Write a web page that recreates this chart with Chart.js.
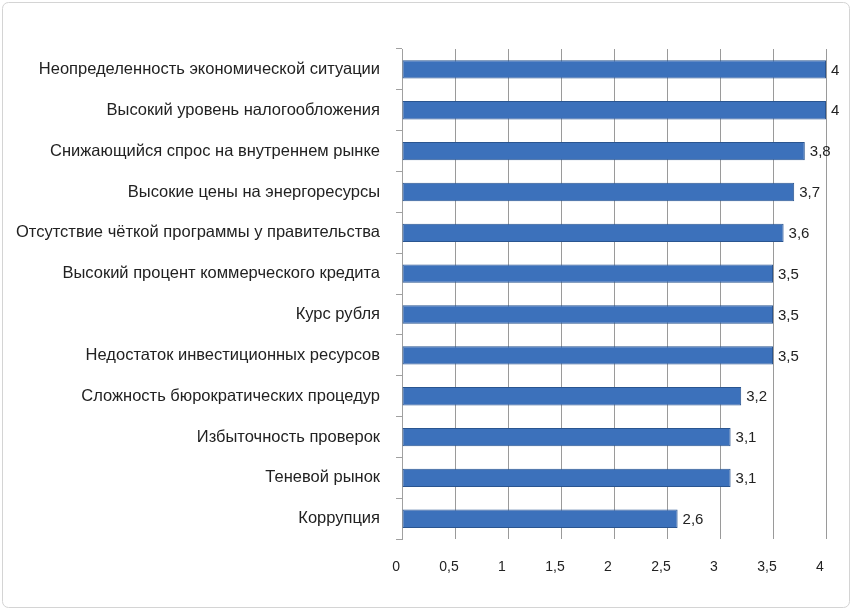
<!DOCTYPE html>
<html>
<head>
<meta charset="utf-8">
<script src="https://cdn.jsdelivr.net/npm/chart.js@4"></script>
<style>
  html, body { margin: 0; padding: 0; background: #fff; }
  #wrap { width: 852px; height: 610px; position: relative; }
</style>
</head>
<body>
<div id="wrap"><canvas id="factors"></canvas></div>
<script>
var factorLabels = [
    'Неопределенность экономической ситуации',
    'Высокий уровень налогообложения',
    'Снижающийся спрос на внутреннем рынке',
    'Высокие цены на энергоресурсы',
    'Отсутствие чёткой программы у правительства',
    'Высокий процент коммерческого кредита',
    'Курс рубля',
    'Недостаток инвестиционных ресурсов',
    'Сложность бюрократических процедур',
    'Избыточность проверок',
    'Теневой рынок',
    'Коррупция'
];
var factorScores = [4, 4, 3.8, 3.7, 3.6, 3.5, 3.5, 3.5, 3.2, 3.1, 3.1, 2.6];
var axisMax = 4;
var axisStep = 0.5;

function commaNum(v) {
    return String(v).replace('.', ',');
}

// frame round the whole picture, like the Excel chart border
var frame = {
    id: 'frame',
    beforeDraw: function(chart) {
        var c = chart.ctx;
        c.save();
        c.fillStyle = '#fff';
        c.fillRect(0, 0, chart.width, chart.height);
        c.strokeStyle = '#d4d4d4';
        c.lineWidth = 1;
        c.beginPath();
        c.roundRect(2.5, 2.5, chart.width - 5, chart.height - 5, 6);
        c.stroke();
        c.restore();
    }
};

// value labels at the end of each bar
var barValues = {
    id: 'barValues',
    afterDatasetsDraw: function(chart) {
        var c = chart.ctx;
        var meta = chart.getDatasetMeta(0);
        c.save();
        c.font = '15px "Liberation Sans", Arial, sans-serif';
        c.fillStyle = '#222';
        c.textBaseline = 'middle';
        meta.data.forEach(function(bar, i) {
            c.fillText(commaNum(factorScores[i]), bar.x + 5, bar.y + 1);
        });
        c.restore();
    }
};

var ctx = document.getElementById('factors').getContext('2d');
var factorsChart = new Chart(ctx, {
    type: 'bar',
    data: {
        labels: factorLabels,
        datasets: [{
            data: factorScores,
            backgroundColor: '#3c71bb',
            borderColor: '#2a5590',
            borderWidth: 1,
            borderSkipped: false,
            barPercentage: 0.45,
            categoryPercentage: 1
        }]
    },
    plugins: [frame, barValues],
    options: {
        indexAxis: 'y',
        responsive: true,
        maintainAspectRatio: false,
        animation: false,
        layout: { padding: { top: 49, right: 26, bottom: 14, left: 0 } },
        plugins: {
            legend: { display: false },
            tooltip: { enabled: false }
        },
        scales: {
            x: {
                min: 0,
                max: axisMax,
                border: { display: false },
                grid: { color: '#9a9a9a', drawTicks: false },
                ticks: {
                    stepSize: axisStep,
                    padding: 20,
                    labelOffset: -6,
                    color: '#222',
                    font: { size: 14, family: '"Liberation Sans", Arial, sans-serif' },
                    callback: function(v) { return commaNum(v); }
                }
            },
            y: {
                border: { display: true, color: '#a0a0a0' },
                grid: { drawOnChartArea: false, offset: true, tickLength: 6, color: '#a0a0a0' },
                ticks: {
                    padding: 16,
                    color: '#222',
                    font: { size: 16.5, family: '"Liberation Sans", Arial, sans-serif' }
                }
            }
        }
    }
});
</script>
</body>
</html>
